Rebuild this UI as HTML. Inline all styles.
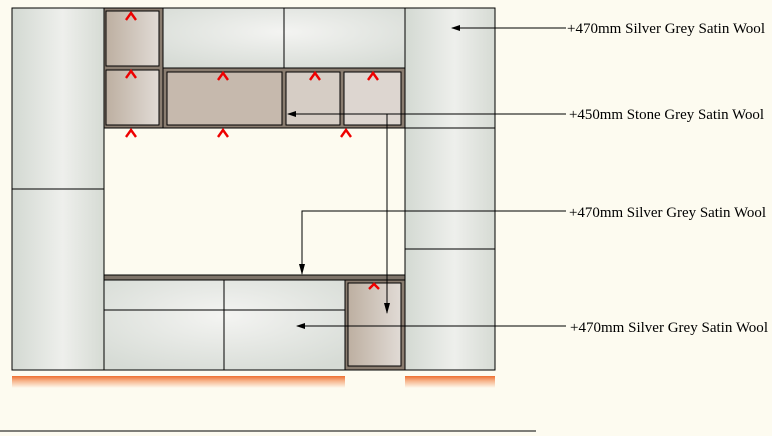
<!DOCTYPE html>
<html><head><meta charset="utf-8"><style>
html,body{margin:0;padding:0;background:#fdfbf0;}
svg{display:block}
text{font-family:"Liberation Serif",serif;font-size:15px;fill:#000}
</style></head><body>
<svg width="772" height="436" viewBox="0 0 772 436" xmlns="http://www.w3.org/2000/svg">
<defs>
<linearGradient id="g" x1="0" y1="0" x2="1" y2="0">
<stop offset="0" stop-color="#d3d9d2"/><stop offset="0.55" stop-color="#eeefec"/><stop offset="1" stop-color="#d6dbd4"/></linearGradient>
<radialGradient id="gr" cx="0.5" cy="0.4" r="0.7">
<stop offset="0" stop-color="#f4f4f2"/><stop offset="1" stop-color="#d6dbd5"/></radialGradient>
<linearGradient id="b" x1="0" y1="0" x2="1" y2="0">
<stop offset="0" stop-color="#bdafa1"/><stop offset="1" stop-color="#e1dbd5"/></linearGradient>
<linearGradient id="o" x1="0" y1="0" x2="0" y2="1">
<stop offset="0" stop-color="#ee6e30"/><stop offset="0.4" stop-color="#f6b38a"/><stop offset="1" stop-color="#fdfbf0"/></linearGradient>
</defs>
<g shape-rendering="crispEdges">
<rect x="12" y="8" width="92" height="362" fill="url(#g)" stroke="#000"/>
<line x1="12" y1="189" x2="104" y2="189" stroke="#000"/>
<rect x="405" y="8" width="90" height="362" fill="url(#g)" stroke="#000"/>
<line x1="405" y1="128" x2="495" y2="128" stroke="#000"/>
<line x1="405" y1="249" x2="495" y2="249" stroke="#000"/>
<rect x="163" y="8" width="242" height="60" fill="url(#gr)" stroke="#000"/>
<line x1="284" y1="8" x2="284" y2="68" stroke="#000"/>
<rect x="104" y="8" width="59" height="120" fill="#8a7d70" stroke="#000"/>
<rect x="106" y="11" width="53" height="55" fill="url(#b)" stroke="#000"/>
<rect x="106" y="70" width="53" height="55" fill="url(#b)" stroke="#000"/>
<rect x="163" y="68" width="242" height="60" fill="#8a7d70" stroke="#000"/>
<rect x="167" y="72" width="115" height="53" fill="#c6b9ad" stroke="#000"/>
<rect x="286" y="72" width="54" height="53" fill="#d6cdc5" stroke="#000"/>
<rect x="344" y="72" width="57" height="53" fill="#ddd6d0" stroke="#000"/>
<rect x="104" y="128" width="301" height="148" fill="#fdfbf0" stroke="#000"/>
<rect x="104" y="275" width="301" height="5" fill="#7d7369" stroke="#000"/>
<rect x="104" y="280" width="241" height="90" fill="url(#gr)" stroke="#000"/>
<line x1="224" y1="280" x2="224" y2="370" stroke="#000"/>
<line x1="104" y1="310" x2="345" y2="310" stroke="#000"/>
<rect x="345" y="280" width="60" height="90" fill="#8a7d70" stroke="#000"/>
<rect x="348" y="283" width="53" height="83" fill="url(#b)" stroke="#000"/>
<rect x="12" y="376" width="333" height="12" fill="url(#o)"/>
<rect x="405" y="376" width="90" height="12" fill="url(#o)"/>
<line x1="0" y1="431" x2="536" y2="431" stroke="#000"/>
<g stroke="#000" stroke-width="1" fill="none">
<line x1="452" y1="28" x2="566" y2="28"/>
<line x1="288" y1="114" x2="566" y2="114"/>
<polyline points="387,114 387,313"/>
<polyline points="566,211 302,211 302,274"/>
<line x1="297" y1="326" x2="566" y2="326"/>
</g>
</g>
<g fill="none" stroke="#e00" stroke-width="2.4">
<path d="M126 20 L131 13 L136 20"/><path d="M126 78 L131 71 L136 78"/>
<path d="M218 80 L223 73 L228 80"/><path d="M310 80 L315 73 L320 80"/>
<path d="M368 80 L373 73 L378 80"/>
<path d="M126 137 L131 130 L136 137"/><path d="M218 137 L223 130 L228 137"/>
<path d="M341 137 L346 130 L351 137"/><path d="M369 289 L374 284 L379 289"/>
</g>
<g fill="#000">
<polygon points="451,28 460,25 460,31"/>
<polygon points="287,114 296,111 296,117"/>
<polygon points="387,314 384,303 390,303"/>
<polygon points="302,275 299,264 305,264"/>
<polygon points="296,326 305,323 305,329"/>
</g>
<text x="567" y="33" textLength="198" lengthAdjust="spacingAndGlyphs">+470mm Silver Grey Satin Wool</text>
<text x="569" y="119" textLength="195" lengthAdjust="spacingAndGlyphs">+450mm Stone Grey Satin Wool</text>
<text x="569" y="217" textLength="197" lengthAdjust="spacingAndGlyphs">+470mm Silver Grey Satin Wool</text>
<text x="570" y="332" textLength="198" lengthAdjust="spacingAndGlyphs">+470mm Silver Grey Satin Wool</text>
</svg>
</body></html>
